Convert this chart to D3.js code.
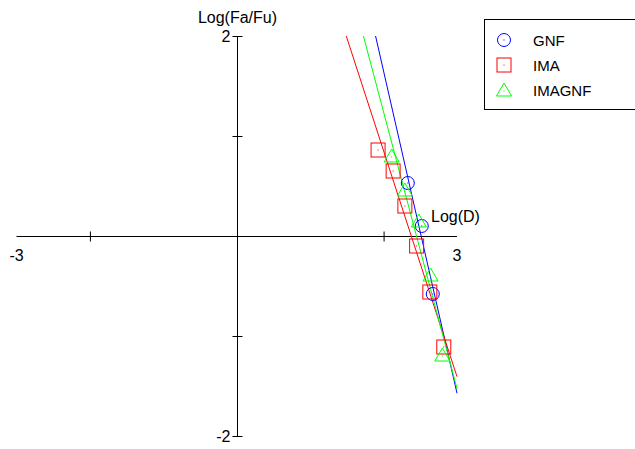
<!DOCTYPE html>
<html><head><meta charset="utf-8">
<script src="https://cdn.jsdelivr.net/npm/d3@7"></script>
<style>html,body{margin:0;padding:0;background:#fff;}svg{display:block;font-family:"Liberation Sans",Arial,sans-serif;}</style>
</head><body>
<svg id="c" width="635" height="449"></svg>
<script>
// Data (log-log median effect plot)
const gnfX = [2.33, 2.52, 2.67];
const gnfY = [0.53, 0.10, -0.58];
const imaX = [1.925, 2.13, 2.29, 2.45, 2.63, 2.82];
const imaY = [0.86, 0.65, 0.30, -0.10, -0.56, -1.11];
const imagnfX = [2.11, 2.29, 2.48, 2.64, 2.80];
const imagnfY = [0.79, 0.45, 0.14, -0.40, -1.20];
const seriesNames = ["GNF", "IMA", "IMAGNF"];
const seriesColors = ["#0000ff", "#ff0000", "#00ff00"];
const seriesShapes = ["circle", "square", "triangle"];
const xTickValues = [-2, 2];
const yTickValues = [-2, -1, 1, 2];
const xEndLabels = [-3, 3];
const yEndLabels = [-2, 2];

const series = [
  {name: seriesNames[0], xs: gnfX, ys: gnfY, color: seriesColors[0], shape: seriesShapes[0]},
  {name: seriesNames[1], xs: imaX, ys: imaY, color: seriesColors[1], shape: seriesShapes[1]},
  {name: seriesNames[2], xs: imagnfX, ys: imagnfY, color: seriesColors[2], shape: seriesShapes[2]}
];

const svg = d3.select("#c");
const x = d3.scaleLinear().domain([-3, 3]).range([16.5, 457]);
const y = d3.scaleLinear().domain([2, -2]).range([36, 436]);
const x0 = Math.round(x(0)) + 0.5, y0 = Math.round(y(0)) + 0.5;

// Axes through origin
const xAxis = d3.axisBottom(x).tickValues(xTickValues).tickSize(0).tickFormat("");
const gx = svg.append("g").attr("transform", `translate(0,${y0})`).call(xAxis);
gx.select(".domain").attr("stroke", "#000").attr("d", `M${x(-3)},0H${x(3)}`);
gx.selectAll(".tick").append("line").attr("y1", -5).attr("y2", 5).attr("stroke", "#000");

const yAxis = d3.axisLeft(y).tickValues(yTickValues).tickSize(0).tickFormat("");
const gy = svg.append("g").attr("transform", `translate(${x0},0)`).call(yAxis);
gy.select(".domain").attr("stroke", "#000").attr("d", `M0,${y(2)}V${y(-2)}`);
gy.selectAll(".tick").append("line").attr("x1", -5).attr("x2", 5).attr("stroke", "#000");

const fs = 16;
svg.selectAll(".xl").data(xEndLabels).enter().append("text")
  .attr("x", d => x(d)).attr("y", y0 + 24).attr("text-anchor", "middle")
  .attr("font-size", fs).attr("fill", "#000").text(d => d);
svg.selectAll(".yl").data(yEndLabels).enter().append("text")
  .attr("x", x0 - 7).attr("y", d => y(d) + 6).attr("text-anchor", "end")
  .attr("font-size", fs).attr("fill", "#000").text(d => d);
svg.append("text").attr("x", x0).attr("y", 23).attr("text-anchor", "middle")
  .attr("font-size", fs).text("Log(Fa/Fu)");
svg.append("text").attr("x", 431).attr("y", 222).attr("font-size", fs).text("Log(D)");

// Regression lines
function fit(xs, ys) {
  const mx = d3.mean(xs), my = d3.mean(ys);
  let sxy = 0, sxx = 0;
  xs.forEach((v, i) => { sxy += (v - mx) * (ys[i] - my); sxx += (v - mx) * (v - mx); });
  const b = sxy / sxx;
  return {b, a: my - b * mx};
}
series.forEach(s => {
  const f = fit(s.xs, s.ys);
  let xa = (2 - f.a) / f.b;
  let xb = 3;
  let yb = f.a + f.b * xb;
  if (yb < -2) { xb = (-2 - f.a) / f.b; yb = -2; }
  svg.append("line")
    .attr("x1", x(xa)).attr("y1", y(2)).attr("x2", x(xb)).attr("y2", y(yb))
    .attr("stroke", s.color).attr("stroke-width", 1);
});

// Markers
function drawMarker(g, shape, color, cx, cy) {
  if (shape === "circle") {
    g.append("circle").attr("cx", cx).attr("cy", cy).attr("r", 6.5)
      .attr("fill", "none").attr("stroke", color);
  } else if (shape === "square") {
    g.append("rect").attr("x", cx - 7).attr("y", cy - 7).attr("width", 14).attr("height", 14)
      .attr("fill", "none").attr("stroke", color);
  } else {
    g.append("path").attr("d", `M${cx},${cy - 8}L${cx + 7.5},${cy + 5}L${cx - 7.5},${cy + 5}Z`)
      .attr("fill", "none").attr("stroke", color);
  }
  g.append("rect").attr("x", cx - 0.5).attr("y", cy - 0.5).attr("width", 1).attr("height", 1).attr("fill", color);
}
series.forEach(s => {
  const g = svg.append("g");
  s.xs.forEach((v, i) => drawMarker(g, s.shape, s.color, x(v), y(s.ys[i])));
});

// Legend
const lg = svg.append("g");
lg.append("rect").attr("x", 484.5).attr("y", 19.5).attr("width", 160).attr("height", 90)
  .attr("fill", "#fff").attr("stroke", "#000");
series.forEach((s, i) => {
  const cy = 40 + i * 25;
  drawMarker(lg, s.shape, s.color, 504, cy + (s.shape === "triangle" ? 1 : 0));
  lg.append("text").attr("x", 533).attr("y", cy + 6).attr("font-size", 15).text(s.name);
});
</script>
</body></html>
